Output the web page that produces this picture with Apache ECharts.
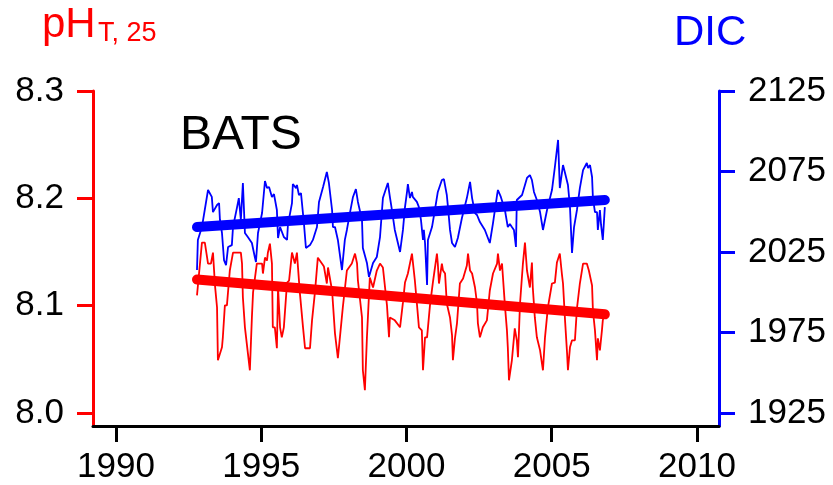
<!DOCTYPE html>
<html>
<head>
<meta charset="utf-8">
<script src="https://cdn.jsdelivr.net/npm/echarts@6/dist/echarts.min.js"></script>
<style>
html, body { margin: 0; padding: 0; background: #fff; }
#bats-chart { width: 833px; height: 485px; }
</style>
</head>
<body>
<div id="bats-chart"></div>
<script>
// DIC
var dicYears = [1992.79, 1992.82, 1992.96, 1993.17, 1993.30, 1993.34, 1993.48, 1993.55, 1993.58, 1993.65,
    1993.72, 1993.79, 1993.86, 1993.99, 1994.03, 1994.17, 1994.23, 1994.30, 1994.37, 1994.44,
    1994.54, 1994.68, 1994.78, 1994.82, 1994.89, 1995.03, 1995.13, 1995.20, 1995.27, 1995.37,
    1995.44, 1995.54, 1995.58, 1995.65, 1995.78, 1995.89, 1995.92, 1996.06, 1996.09, 1996.20,
    1996.23, 1996.30, 1996.37, 1996.47, 1996.54, 1996.68, 1996.78, 1996.92, 1996.99, 1997.13,
    1997.26, 1997.33, 1997.44, 1997.47, 1997.54, 1997.64, 1997.78, 1997.88, 1997.95, 1998.06,
    1998.16, 1998.26, 1998.33, 1998.47, 1998.50, 1998.64, 1998.71, 1998.85, 1998.98, 1999.09,
    1999.19, 1999.36, 1999.43, 1999.50, 1999.60, 1999.78, 1999.88, 1999.95, 2000.02, 2000.05,
    2000.12, 2000.19, 2000.22, 2000.36, 2000.43, 2000.50, 2000.57, 2000.60, 2000.64, 2000.71,
    2000.74, 2000.88, 2000.98, 2001.08, 2001.22, 2001.29, 2001.39, 2001.43, 2001.50, 2001.57,
    2001.67, 2001.77, 2001.91, 2002.08, 2002.19, 2002.26, 2002.36, 2002.43, 2002.53, 2002.70,
    2002.87, 2002.98, 2003.12, 2003.15, 2003.25, 2003.39, 2003.49, 2003.56, 2003.63, 2003.70,
    2003.77, 2003.80, 2003.98, 2004.15, 2004.25, 2004.32, 2004.39, 2004.49, 2004.60, 2004.70,
    2004.84, 2005.01, 2005.11, 2005.22, 2005.28, 2005.39, 2005.46, 2005.56, 2005.63, 2005.70,
    2005.77, 2005.87, 2005.97, 2006.08, 2006.21, 2006.25, 2006.32, 2006.39, 2006.42, 2006.49,
    2006.56, 2006.59, 2006.66, 2006.70, 2006.76, 2006.83];
var dicValues = [2013.8, 2032.5, 2040.5, 2063.5, 2059.2, 2049.8, 2054.2, 2055.4, 2044.9, 2036.8,
    2020.0, 2016.9, 2028.1, 2029.3, 2040.5, 2052.9, 2058.5, 2044.9, 2067.9, 2036.8,
    2034.3, 2030.6, 2021.9, 2018.8, 2036.8, 2049.2, 2069.1, 2064.7, 2065.4, 2059.2,
    2061.0, 2051.1, 2033.7, 2040.5, 2034.3, 2032.5, 2041.8, 2055.4, 2067.2, 2064.7,
    2066.6, 2060.4, 2061.6, 2043.0, 2027.5, 2029.3, 2032.5, 2040.5, 2056.1, 2065.4,
    2074.7, 2067.9, 2051.1, 2040.5, 2040.5, 2032.5, 2013.8, 2032.5, 2038.7, 2049.8,
    2059.2, 2064.1, 2056.1, 2044.9, 2027.5, 2018.2, 2009.5, 2018.2, 2021.9, 2034.3,
    2058.5, 2067.9, 2059.2, 2051.1, 2038.7, 2025.0, 2038.7, 2052.9, 2062.3, 2067.2,
    2058.5, 2062.3, 2059.2, 2056.1, 2052.9, 2044.9, 2032.5, 2038.7, 2030.6, 2004.5,
    2032.5, 2040.5, 2051.1, 2062.3, 2069.7, 2070.3, 2060.4, 2052.9, 2038.7, 2030.6,
    2028.1, 2033.7, 2046.1, 2058.5, 2068.5, 2058.5, 2049.2, 2048.0, 2043.6, 2038.7,
    2030.6, 2043.0, 2060.4, 2063.5, 2059.2, 2051.1, 2040.5, 2042.4, 2040.5, 2038.7,
    2028.1, 2057.3, 2060.4, 2071.0, 2072.8, 2069.7, 2062.3, 2057.3, 2049.8, 2038.7,
    2051.1, 2063.5, 2077.8, 2094.6, 2064.7, 2079.0, 2074.1, 2066.6, 2052.9, 2024.4,
    2040.5, 2051.1, 2064.7, 2075.9, 2080.3, 2077.2, 2079.0, 2071.6, 2058.5, 2049.8,
    2049.8, 2038.7, 2051.1, 2041.8, 2032.5, 2052.9];

// pH (total scale, 25 C)
var phYears = [1992.79, 1992.96, 1993.06, 1993.17, 1993.27, 1993.34, 1993.41, 1993.48, 1993.51, 1993.65,
    1993.68, 1993.75, 1993.82, 1993.92, 1994.03, 1994.17, 1994.30, 1994.34, 1994.37, 1994.44,
    1994.61, 1994.68, 1994.72, 1994.85, 1995.03, 1995.06, 1995.13, 1995.20, 1995.23, 1995.30,
    1995.37, 1995.40, 1995.47, 1995.54, 1995.58, 1995.65, 1995.71, 1995.78, 1995.89, 1995.96,
    1996.06, 1996.16, 1996.23, 1996.33, 1996.44, 1996.51, 1996.68, 1996.75, 1996.85, 1996.95,
    1997.09, 1997.16, 1997.26, 1997.30, 1997.44, 1997.54, 1997.64, 1997.71, 1997.81, 1997.95,
    1998.12, 1998.23, 1998.30, 1998.33, 1998.47, 1998.50, 1998.57, 1998.64, 1998.74, 1998.85,
    1998.98, 1999.09, 1999.19, 1999.33, 1999.40, 1999.43, 1999.60, 1999.78, 1999.88, 1999.95,
    2000.05, 2000.19, 2000.22, 2000.29, 2000.36, 2000.43, 2000.53, 2000.57, 2000.64, 2000.71,
    2000.81, 2000.91, 2001.05, 2001.08, 2001.12, 2001.22, 2001.26, 2001.33, 2001.39, 2001.50,
    2001.57, 2001.60, 2001.67, 2001.74, 2001.84, 2001.95, 2002.08, 2002.12, 2002.19, 2002.26,
    2002.36, 2002.43, 2002.46, 2002.53, 2002.63, 2002.77, 2002.87, 2002.98, 2003.12, 2003.15,
    2003.22, 2003.29, 2003.39, 2003.46, 2003.49, 2003.53, 2003.63, 2003.73, 2003.80, 2003.84,
    2003.91, 2004.01, 2004.08, 2004.15, 2004.25, 2004.32, 2004.35, 2004.42, 2004.49, 2004.60,
    2004.70, 2004.77, 2004.87, 2005.01, 2005.11, 2005.18, 2005.28, 2005.35, 2005.39, 2005.46,
    2005.53, 2005.56, 2005.63, 2005.70, 2005.80, 2005.87, 2005.97, 2006.08, 2006.21, 2006.28,
    2006.39, 2006.42, 2006.49, 2006.56, 2006.59, 2006.66, 2006.73, 2006.76, 2006.83];
var phValues = [8.1096, 8.1588, 8.1588, 8.1393, 8.1393, 8.1495, 8.1188, 8.0984, 8.0492, 8.0613,
    8.0706, 8.1003, 8.1003, 8.1328, 8.1495, 8.1495, 8.1495, 8.1393, 8.1077, 8.0799,
    8.0399, 8.0891, 8.1124, 8.1393, 8.1393, 8.1300, 8.1448, 8.1421, 8.1495, 8.1578,
    8.1393, 8.0799, 8.0799, 8.0604, 8.1170, 8.0799, 8.0706, 8.0799, 8.1216, 8.1235,
    8.1495, 8.1393, 8.1495, 8.1124, 8.0799, 8.0604, 8.0604, 8.0864, 8.1124, 8.1448,
    8.1393, 8.1365, 8.1207, 8.1356, 8.1142, 8.0743, 8.0511, 8.0706, 8.0984, 8.1328,
    8.1393, 8.1486, 8.1393, 8.1235, 8.0891, 8.0399, 8.0214, 8.0706, 8.1263, 8.1170,
    8.1328, 8.1393, 8.1356, 8.1003, 8.0706, 8.0891, 8.0864, 8.0799, 8.1031, 8.1216,
    8.1300, 8.1486, 8.1486, 8.1235, 8.1021, 8.0799, 8.0771, 8.0399, 8.0706, 8.0706,
    8.1003, 8.1216, 8.1486, 8.1393, 8.1207, 8.1393, 8.1328, 8.1300, 8.1021, 8.0891,
    8.0724, 8.0492, 8.0696, 8.0836, 8.1207, 8.1253, 8.1374, 8.1486, 8.1328, 8.1300,
    8.1170, 8.1021, 8.0836, 8.0706, 8.0799, 8.0864, 8.1142, 8.1300, 8.1393, 8.1486,
    8.1328, 8.1393, 8.1003, 8.0771, 8.0613, 8.0306, 8.0492, 8.0789, 8.0678, 8.0520,
    8.1021, 8.1393, 8.1588, 8.1328, 8.1170, 8.1402, 8.1170, 8.0891, 8.0706, 8.0585,
    8.0399, 8.0706, 8.0984, 8.1207, 8.1216, 8.1402, 8.1486, 8.1300, 8.1207, 8.0864,
    8.0557, 8.0399, 8.0613, 8.0678, 8.0678, 8.0975, 8.1207, 8.1393, 8.1393, 8.1328,
    8.1188, 8.0956, 8.0771, 8.0492, 8.0696, 8.0585, 8.0771, 8.0864, 8.0956];

// linear trends (end points)
var trendYears = [1992.79, 2006.83];
var phTrend = [8.1244, 8.0920];
var dicTrend = [2040.5, 2057.3];

// tick labels
var yearTicks = [1990, 1995, 2000, 2005, 2010];
var phTicks = [8.0, 8.1, 8.2, 8.3];
var dicTicks = [1925, 1975, 2025, 2075, 2125];

var FONT = '"Liberation Sans", Arial, Helvetica, sans-serif';
var RED = '#ff0000';
var BLUE = '#0000ff';

var batsChart = echarts.init(document.getElementById('bats-chart'));

function pairs(xs, ys) {
    var out = [];
    for (var i = 0; i < xs.length; i++) {
        out.push([xs[i], ys[i]]);
    }
    return out;
}

function sideAxis(color, ticks, min, max, position, digits) {
    return {
        type: 'value',
        position: position,
        min: min,
        max: max,
        splitLine: { show: false },
        axisLine: { show: true, lineStyle: { color: color, width: 3 } },
        axisTick: { show: true, length: 16, customValues: ticks, lineStyle: { color: color, width: 3 } },
        axisLabel: {
            customValues: ticks,
            margin: 29,
            color: '#000',
            fontSize: 35,
            fontFamily: FONT,
            formatter: function(v) { return v.toFixed(digits); }
        }
    };
}

batsChart.setOption({
    animation: false,
    backgroundColor: '#fff',
    grid: { left: 93, right: 114, top: 91, bottom: 59 },
    xAxis: {
        type: 'value',
        min: 1989.21,
        max: 2010.76,
        splitLine: { show: false },
        axisLine: { show: true, lineStyle: { color: '#000', width: 3 } },
        axisTick: { show: true, length: 16, customValues: yearTicks, lineStyle: { color: '#000', width: 3 } },
        axisLabel: {
            customValues: yearTicks,
            margin: 24,
            color: '#000',
            fontSize: 35,
            fontFamily: FONT,
            formatter: function(v) { return String(v); }
        }
    },
    yAxis: [
        sideAxis(RED, phTicks, 7.988, 8.3, 'left', 1),
        sideAxis(BLUE, dicTicks, 1916.93, 2125, 'right', 0)
    ],
    graphic: [
        { type: 'text', left: 42, top: 4, style: { text: 'pH', font: '42px ' + FONT, fill: RED } },
        { type: 'text', left: 98, top: 20, style: { text: 'T, 25', font: '27px ' + FONT, fill: RED } },
        { type: 'text', left: 674, top: 12, style: { text: 'DIC', font: '42px ' + FONT, fill: BLUE } },
        { type: 'text', left: 180, top: 112, style: { text: 'BATS', font: '48px ' + FONT, fill: '#000' } }
    ],
    series: [
        {
            name: 'pH', type: 'line', yAxisIndex: 0, showSymbol: false,
            lineStyle: { color: RED, width: 1.8 },
            data: pairs(phYears, phValues)
        },
        {
            name: 'DIC', type: 'line', yAxisIndex: 1, showSymbol: false,
            lineStyle: { color: BLUE, width: 1.8 },
            data: pairs(dicYears, dicValues)
        },
        {
            name: 'pH trend', type: 'line', yAxisIndex: 0, showSymbol: false,
            lineStyle: { color: RED, width: 10, cap: 'round' },
            data: pairs(trendYears, phTrend)
        },
        {
            name: 'DIC trend', type: 'line', yAxisIndex: 1, showSymbol: false,
            lineStyle: { color: BLUE, width: 10, cap: 'round' },
            data: pairs(trendYears, dicTrend)
        }
    ]
});
</script>
</body>
</html>
